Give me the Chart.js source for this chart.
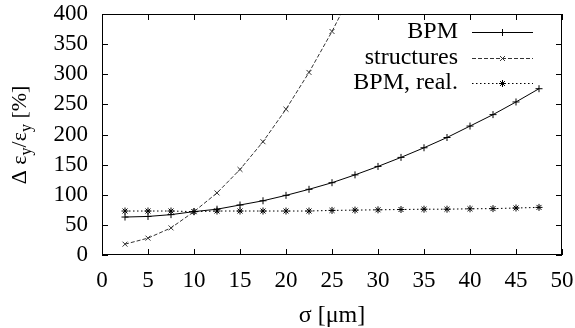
<!DOCTYPE html>
<html>
<head>
<meta charset="utf-8">
<script src="https://cdn.jsdelivr.net/npm/chart.js@4.4.1/dist/chart.umd.min.js"></script>
<style>
  html, body { margin: 0; padding: 0; background: #ffffff; }
  canvas { display: block; }
</style>
</head>
<body>
<canvas id="emittanceChart" width="575" height="328"></canvas>
<script>
// sigma [um] and relative emittance growth [%]
const sigma = [2.5, 5, 7.5, 10, 12.5, 15, 17.5, 20, 22.5, 25, 27.5, 30, 32.5, 35, 37.5, 40, 42.5, 45, 47.5];
const bpm = [63, 64, 67, 72, 76, 83, 90, 99, 109, 120, 133, 147, 162, 178, 195, 214, 233, 254, 276];
const structures = [18, 28, 45, 72, 103, 142, 188, 242, 303, 371, 446];
const bpmReal = [73, 73, 73, 72, 73, 73, 73, 73, 73, 74, 74.5, 75, 75.5, 76, 76, 76.7, 77, 78, 79];

const xTicks = [0, 5, 10, 15, 20, 25, 30, 35, 40, 45, 50];
const yTicks = [0, 50, 100, 150, 200, 250, 300, 350, 400];

const seriesNames = ["BPM", "structures", "BPM, real."];

const FONT = '"Liberation Serif", "Times New Roman", serif';
Chart.defaults.font.family = FONT;
Chart.defaults.font.size = 23;
Chart.defaults.color = "#000";

function toPoints(values) {
  return values.map((v, i) => ({ x: sigma[i], y: v }));
}

const datasets = [
  {
    label: seriesNames[0],
    data: toPoints(bpm),
    borderColor: "#000",
    borderWidth: 1,
    borderDash: [],
    pointStyle: "cross",
    pointRadius: 3.5,
  },
  {
    label: seriesNames[1],
    data: toPoints(structures),
    borderColor: "#333",
    borderWidth: 1,
    borderDash: [4, 2],
    pointStyle: "crossRot",
    pointRadius: 3.5,
  },
  {
    label: seriesNames[2],
    data: toPoints(bpmReal),
    borderColor: "#000",
    borderWidth: 1,
    borderDash: [1.5, 2.5],
    pointStyle: "star",
    pointRadius: 3.5,
  },
];
datasets.forEach((d) => {
  d.pointBorderColor = d.borderColor;
  d.pointBackgroundColor = d.borderColor;
  d.pointBorderWidth = 1;
  d.fill = false;
  d.tension = 0;
});

// frame with inward ticks, gnuplot-style legend and axis titles
const gnuplotLook = {
  id: "gnuplotLook",
  afterDraw(chart) {
    const { ctx, chartArea: a, scales } = chart;
    const tick = 6;
    ctx.save();
    ctx.strokeStyle = "#000";
    ctx.lineWidth = 1;
    ctx.setLineDash([]);
    ctx.strokeRect(a.left + 0.5, a.top + 0.5, a.right - a.left - 1, a.bottom - a.top - 1);

    ctx.beginPath();
    xTicks.forEach((v) => {
      const px = Math.round(scales.x.getPixelForValue(v)) + 0.5;
      ctx.moveTo(px, a.bottom);
      ctx.lineTo(px, a.bottom - tick);
      ctx.moveTo(px, a.top);
      ctx.lineTo(px, a.top + tick);
    });
    yTicks.forEach((v) => {
      const py = Math.round(scales.y.getPixelForValue(v)) + 0.5;
      ctx.moveTo(a.left, py);
      ctx.lineTo(a.left + tick, py);
      ctx.moveTo(a.right, py);
      ctx.lineTo(a.right - tick, py);
    });
    ctx.stroke();

    // legend
    ctx.font = "24px " + FONT;
    ctx.textAlign = "right";
    ctx.textBaseline = "middle";
    chart.data.datasets.forEach((ds, i) => {
      const y = 32 + i * 25.5;
      ctx.fillStyle = "#000";
      ctx.fillText(ds.label, 458, y);
      ctx.strokeStyle = ds.borderColor;
      ctx.setLineDash(ds.borderDash);
      ctx.beginPath();
      ctx.moveTo(472, Math.round(y) + 0.5);
      ctx.lineTo(533, Math.round(y) + 0.5);
      ctx.stroke();
      ctx.setLineDash([]);
      Chart.helpers.drawPoint(ctx, { pointStyle: ds.pointStyle, radius: ds.pointRadius, borderWidth: 1, rotation: 0 }, 502.5, Math.round(y) + 0.5);
    });

    // x title
    ctx.fillStyle = "#000";
    ctx.font = "24px " + FONT;
    ctx.textAlign = "center";
    ctx.textBaseline = "alphabetic";
    ctx.fillText("\u03c3 [\u03bcm]", (a.left + a.right) / 2, 322);

    // y title with subscripts
    const parts = [
      { t: "\u0394 \u03b5", sub: false },
      { t: "y", sub: true },
      { t: "/\u03b5", sub: false },
      { t: "y", sub: true },
      { t: " [%]", sub: false },
    ];
    const mainFont = "22px " + FONT;
    const subFont = "16px " + FONT;
    let total = 0;
    parts.forEach((p) => {
      ctx.font = p.sub ? subFont : mainFont;
      p.w = ctx.measureText(p.t).width;
      total += p.w;
    });
    ctx.translate(26, 135);
    ctx.rotate(-Math.PI / 2);
    ctx.textAlign = "left";
    let x = -total / 2;
    parts.forEach((p) => {
      ctx.font = p.sub ? subFont : mainFont;
      ctx.fillText(p.t, x, p.sub ? 5 : 0);
      x += p.w;
    });
    ctx.restore();
  },
};

new Chart(document.getElementById("emittanceChart"), {
  type: "line",
  data: { datasets: datasets },
  options: {
    responsive: false,
    animation: false,
    layout: { padding: { top: 14, right: 13, left: 0, bottom: 0 } },
    plugins: {
      legend: { display: false },
      tooltip: { enabled: false },
    },
    scales: {
      x: {
        type: "linear",
        min: 0,
        max: 50,
        grid: { display: false, drawTicks: false },
        border: { display: false },
        ticks: { stepSize: 5, padding: 12, maxRotation: 0, autoSkip: false },
        afterFit: (scale) => {
          scale.height = 73;
          scale.paddingLeft = 0;
          scale.paddingRight = 0;
        },
      },
      y: {
        min: 0,
        max: 400,
        grid: { display: false, drawTicks: false },
        border: { display: false },
        ticks: { stepSize: 50, padding: 14, autoSkip: false },
        afterFit: (scale) => {
          scale.width = 102;
          scale.paddingTop = 0;
          scale.paddingBottom = 0;
        },
      },
    },
  },
  plugins: [gnuplotLook],
});
</script>
</body>
</html>
